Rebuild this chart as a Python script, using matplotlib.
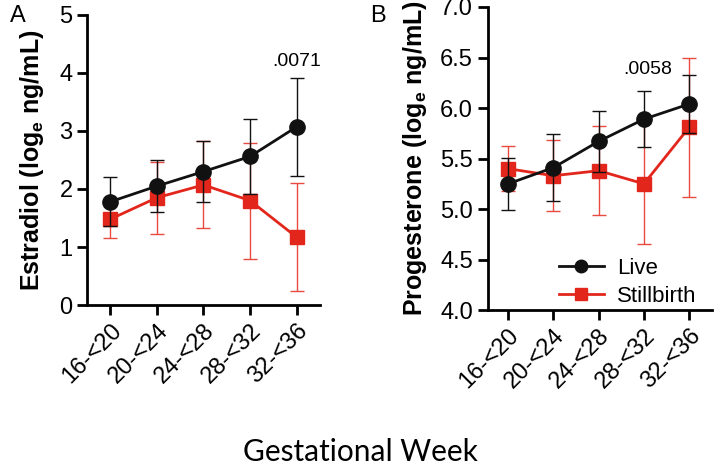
import matplotlib
matplotlib.use('Agg')
import matplotlib.pyplot as plt
from matplotlib.lines import Line2D

plt.rcParams['font.family'] = ['Liberation Sans', 'DejaVu Sans']
plt.rcParams['mathtext.fontset'] = 'custom'
plt.rcParams['mathtext.rm'] = 'Liberation Sans'
plt.rcParams['mathtext.bf'] = 'Liberation Sans:bold'

weeks = ['16-<20', '20-<24', '24-<28', '28-<32', '32-<36']

# Panel A: estradiol
e2_live = [1.78, 2.05, 2.30, 2.56, 3.07]
e2_live_err = [0.42, 0.45, 0.53, 0.64, 0.85]
e2_still = [1.48, 1.85, 2.07, 1.80, 1.17]
e2_still_err = [0.33, 0.62, 0.75, 1.00, 0.93]

# Panel B: progesterone
p4_live = [5.25, 5.41, 5.67, 5.89, 6.04]
p4_live_err = [0.26, 0.33, 0.30, 0.28, 0.29]
p4_still = [5.40, 5.33, 5.38, 5.25, 5.81]
p4_still_err = [0.22, 0.35, 0.44, 0.60, 0.69]

RED = '#e3261c'
BLACK = '#111111'

fig = plt.figure(figsize=(7.14, 4.65), dpi=100)
ax_a = fig.add_axes([0.122, 0.344, 0.326, 0.624])
ax_b = fig.add_axes([0.683, 0.333, 0.314, 0.652])


def draw_panel(ax, live, live_err, still, still_err):
    x = list(range(len(weeks)))
    ax.errorbar(x, still, yerr=still_err, color=RED, marker='s', ms=10,
                lw=2.0, elinewidth=1.0, capsize=5, capthick=1.0,
                ecolor='#e84a3f', zorder=2)
    ax.errorbar(x, live, yerr=live_err, color=BLACK, marker='o', ms=11,
                lw=2.0, elinewidth=1.0, capsize=5, capthick=1.0, zorder=3)
    ax.spines['top'].set_visible(False)
    ax.spines['right'].set_visible(False)
    for s in ('left', 'bottom'):
        ax.spines[s].set_linewidth(2.0)
    ax.tick_params(width=2.0, length=7, labelsize=17, direction='out')
    ax.set_xticks(x)
    ax.set_xticklabels(weeks, rotation=45, ha='right', rotation_mode='anchor',
                       fontsize=17)
    ax.set_xlim(-0.5, 4.5)


draw_panel(ax_a, e2_live, e2_live_err, e2_still, e2_still_err)
ax_a.set_ylim(0, 5)
ax_a.set_yticks([0, 1, 2, 3, 4, 5])
ax_a.set_ylabel(r'Estradiol (log$_\mathbf{e}$ ng/mL)', fontsize=18,
                fontweight='bold', labelpad=10)
ax_a.text(4, 4.2, '.0071', ha='center', va='center', fontsize=14)

draw_panel(ax_b, p4_live, p4_live_err, p4_still, p4_still_err)
ax_b.set_xlim(-0.45, 4.5)
ax_b.set_ylim(4.0, 7.0)
ax_b.set_yticks([4.0, 4.5, 5.0, 5.5, 6.0, 6.5, 7.0])
ax_b.set_yticklabels(['4.0', '4.5', '5.0', '5.5', '6.0', '6.5', '7.0'])
ax_b.set_ylabel(r'Progesterone (log$_\mathbf{e}$ ng/mL)', fontsize=18,
                fontweight='bold', labelpad=8)
ax_b.text(3.08, 6.38, '.0058', ha='center', va='center', fontsize=14)

handles = [Line2D([], [], color=BLACK, marker='o', ms=9, lw=2.0),
           Line2D([], [], color=RED, marker='s', ms=9, lw=2.0)]
ax_b.legend(handles, ['Live', 'Stillbirth'], loc='lower right',
            bbox_to_anchor=(1.02, -0.055), frameon=False, fontsize=16,
            handlelength=2.0, handletextpad=0.6, labelspacing=0.3)

fig.text(0.014, 0.965, 'A', fontsize=17, ha='left', va='center')
fig.text(0.518, 0.965, 'B', fontsize=17, ha='left', va='center')
fig.text(0.505, 0.028, 'Gestational Week', fontsize=21.5, ha='center',
         va='center', family=['Lato', 'DejaVu Sans'])

fig.savefig('out.png', dpi=100)
